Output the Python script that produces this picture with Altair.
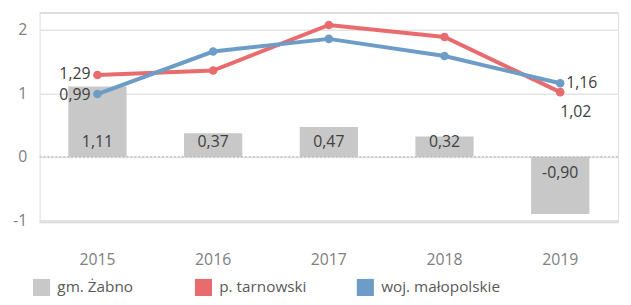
import altair as alt
import pandas as pd

years = ["2015", "2016", "2017", "2018", "2019"]
series = ["gm. Żabno", "p. tarnowski", "woj. małopolskie"]
zabno = [1.11, 0.37, 0.47, 0.32, -0.90]
tarnowski = [1.29, 1.36, 2.08, 1.89, 1.02]
malopolskie = [0.99, 1.66, 1.86, 1.59, 1.16]
colors = ["#c8c8c8", "#e86b6e", "#6d9cc6"]
y_ticks = [-1, 0, 1, 2]

rows = []
for i, y in enumerate(years):
    rows.append({"year": y, "series": series[0], "v": zabno[i]})
    rows.append({"year": y, "series": series[1], "v": tarnowski[i]})
    rows.append({"year": y, "series": series[2], "v": malopolskie[i]})
df = pd.DataFrame(rows)

FONT = "Open Sans"
W, H = 586, 212
ydom = [-1.03, 2.27]
LAB = 16

xenc = alt.X("year:N", sort=years, scale=alt.Scale(paddingInner=0.5, paddingOuter=0.25),
             axis=alt.Axis(title=None, labelAngle=0, domain=False, ticks=False,
                           labelPadding=30, labelFontSize=16, labelColor="#808080",
                           labelFont=FONT, grid=False))
yscale = alt.Scale(domain=ydom, nice=False, zero=False)
color = alt.Color("series:N", sort=series,
                  scale=alt.Scale(domain=series, range=colors),
                  legend=alt.Legend(title=None, orient="none", direction="horizontal",
                                    legendX=-7, legendY=269, columns=3, gridAlign="all",
                                    columnPadding=18, symbolType="square", symbolSize=300,
                                    symbolStrokeWidth=0, symbolOpacity=1,
                                    labelFontSize=15.5, labelColor="#595959",
                                    labelFont=FONT, labelOffset=7, labelLimit=200))

base = alt.Chart(df)
fmt = "replace(replace(format(datum.v, '.2f'), '.', ','), '\u2212', '-')"

bars = base.transform_filter(alt.datum.series == series[0]).mark_bar(size=59).encode(
    x=xenc,
    y=alt.Y("v:Q", scale=yscale,
            axis=alt.Axis(title=None, values=y_ticks, domain=False, ticks=False,
                          labelPadding=13, labelFontSize=16, labelColor="#808080",
                          labelFont=FONT, gridColor="#e3e3e3", gridWidth=1.5,
                          labelExpr="datum.value < 0 ? '-' + abs(datum.value) : '' + datum.value")),
    color=color,
)

grid0 = alt.Chart(pd.DataFrame({"z": [0]})).mark_rule(
    color="#b0b0b0", strokeDash=[2, 2], strokeWidth=1).encode(y=alt.Y("z:Q", scale=yscale))
edges = alt.Chart(pd.DataFrame({"z": ydom})).mark_rule(
    color="#dcdcdc", strokeWidth=2).encode(y=alt.Y("z:Q", scale=yscale))

bar_lab_pos = base.transform_filter(
    (alt.datum.series == series[0]) & (alt.datum.v >= 0)
).transform_calculate(t=fmt, z="0").mark_text(
    dy=-15, fontSize=LAB, color="#404040", font=FONT, baseline="middle"
).encode(x=alt.X("year:N", sort=years), y=alt.Y("z:Q", scale=yscale), text="t:N")

bar_lab_neg = base.transform_filter(
    (alt.datum.series == series[0]) & (alt.datum.v < 0)
).transform_calculate(t=fmt, z="0").mark_text(
    dy=16, fontSize=LAB, color="#404040", font=FONT, baseline="middle"
).encode(x=alt.X("year:N", sort=years), y=alt.Y("z:Q", scale=yscale), text="t:N")

lines = base.transform_filter(alt.datum.series != series[0]).mark_line(
    strokeWidth=4, point=alt.OverlayMarkDef(size=75, filled=True, opacity=1)
).encode(x=alt.X("year:N", sort=years), y=alt.Y("v:Q", scale=yscale), color=color)

lab_2015a = base.transform_filter(
    (alt.datum.series == series[1]) & (alt.datum.year == "2015")
).transform_calculate(t=fmt).mark_text(
    align="right", dx=-7, dy=-1, fontSize=LAB, color="#404040", font=FONT, baseline="middle"
).encode(x=alt.X("year:N", sort=years), y=alt.Y("v:Q", scale=yscale), text="t:N")

lab_2015b = base.transform_filter(
    (alt.datum.series == series[2]) & (alt.datum.year == "2015")
).transform_calculate(t=fmt).mark_text(
    align="right", dx=-7, dy=1, fontSize=LAB, color="#404040", font=FONT, baseline="middle"
).encode(x=alt.X("year:N", sort=years), y=alt.Y("v:Q", scale=yscale), text="t:N")

lab_2019a = base.transform_filter(
    (alt.datum.series == series[2]) & (alt.datum.year == "2019")
).transform_calculate(t=fmt).mark_text(
    align="left", dx=6, fontSize=LAB, color="#404040", font=FONT, baseline="middle"
).encode(x=alt.X("year:N", sort=years), y=alt.Y("v:Q", scale=yscale), text="t:N")

lab_2019b = base.transform_filter(
    (alt.datum.series == series[1]) & (alt.datum.year == "2019")
).transform_calculate(t=fmt).mark_text(
    align="left", dx=0, dy=20, fontSize=LAB, color="#404040", font=FONT, baseline="middle"
).encode(x=alt.X("year:N", sort=years), y=alt.Y("v:Q", scale=yscale), text="t:N")

chart = alt.layer(
    bars, edges, grid0, bar_lab_pos, bar_lab_neg, lines,
    lab_2015a, lab_2015b, lab_2019a, lab_2019b
).properties(
    width=W, height=H,
    autosize=alt.AutoSizeParams(type="none"),
    padding={"left": 32, "top": 3, "right": 5, "bottom": 82},
).configure_view(stroke=None).configure(background="white")

chart.save("out.html", embed_options={"renderer": "svg", "actions": False})
